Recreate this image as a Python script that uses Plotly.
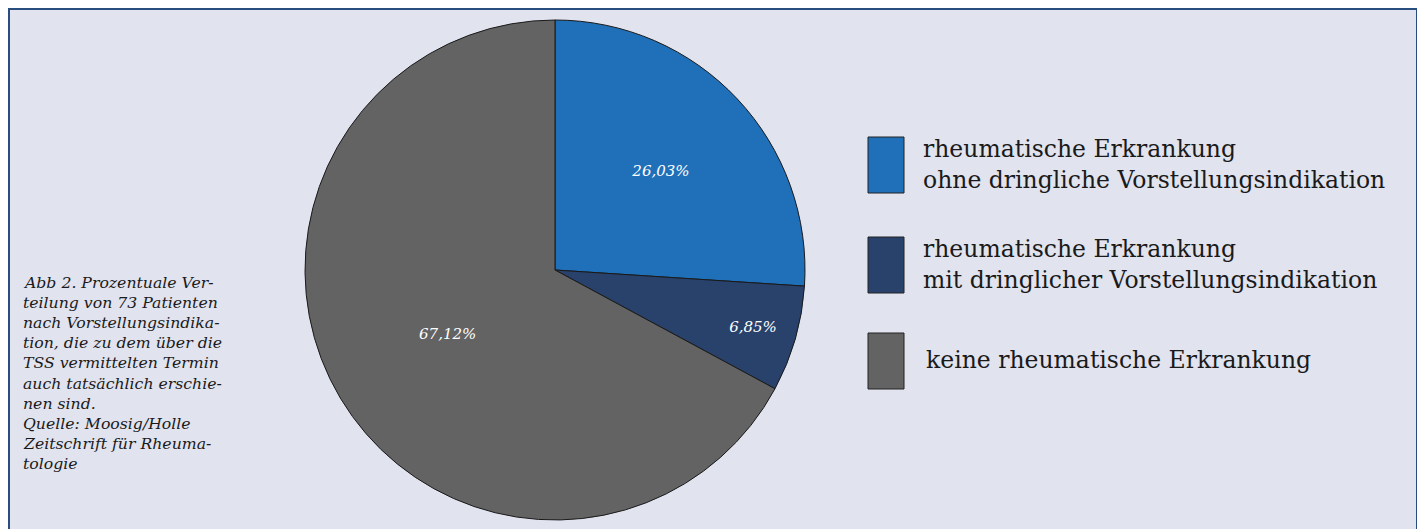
import plotly.graph_objects as go

W, H = 1410, 521

categories = [
    "rheumatische Erkrankung<br>ohne dringliche Vorstellungsindikation",
    "rheumatische Erkrankung<br>mit dringlicher Vorstellungsindikation",
    "keine rheumatische Erkrankung",
]
patients = [19, 5, 49]
colors = ["#1f70b8", "#28426c", "#636363"]

caption_lines = [
    "Abb 2. Prozentuale Ver-",
    "teilung von 73 Patienten",
    "nach Vorstellungsindika-",
    "tion, die zu dem über die",
    "TSS vermittelten Termin",
    "auch tatsächlich erschie-",
    "nen sind.",
    "Quelle: Moosig/Holle",
    "Zeitschrift für Rheuma-",
    "tologie",
]

bg = "#e1e3ef"
serif = "DejaVu Serif"


def px(x, y):
    # pixel position in the figure -> paper coords
    return x / W, 1 - y / H


fig = go.Figure(go.Pie(
    labels=categories,
    values=patients,
    sort=False,
    direction="clockwise",
    rotation=0,
    marker=dict(colors=colors, line=dict(color="#1a1a1a", width=1)),
    texttemplate="%{percent:.2%}",
    textposition="inside",
    insidetextorientation="horizontal",
    textfont=dict(family=serif, size=15, color="white", style="italic"),
    domain=dict(x=[297 / W, 797 / W], y=[1 - 512 / H, 1 - 12 / H]),
    showlegend=False,
    hoverinfo="label+percent",
))

# blue frame round the whole thing
shapes = [dict(type="rect", xref="paper", yref="paper", layer="below",
               x0=1 / W, x1=1 - 1 / W, y0=-0.05, y1=1 - 1 / H,
               fillcolor=bg, line=dict(color="#2a4d80", width=2))]

# hand-made legend (big boxes like the original)
box_tops = [129, 229, 325]
text_x = [913, 913, 916]
annotations = []
for i, (lab, col) in enumerate(zip(categories, colors)):
    top = box_tops[i]
    x0, y1 = px(860, top)
    x1, y0 = px(896, top + 56)
    shapes.append(dict(type="rect", xref="paper", yref="paper",
                       x0=x0, x1=x1, y0=y0, y1=y1,
                       fillcolor=col, line=dict(color="#222222", width=1)))
    tx, ty = px(text_x[i], top + 27)
    annotations.append(dict(xref="paper", yref="paper", x=tx, y=ty,
                            xanchor="left", yanchor="middle", align="left", showarrow=False,
                            text=lab, font=dict(family=serif, size=23.5, color="#1a1a1a")))

# caption, one line at a time to keep the tight leading
for i, line in enumerate(caption_lines):
    cx, cy = px(13, 274 + 20.2 * i)
    annotations.append(dict(xref="paper", yref="paper", x=cx, y=cy,
                            xanchor="left", yanchor="middle", showarrow=False,
                            text=line,
                            font=dict(family=serif, size=15.7, color="#1a1a1a", style="italic")))

fig.update_layout(
    width=W, height=H,
    margin=dict(l=0, r=0, t=0, b=0),
    paper_bgcolor=bg,
    separators=",.",
    shapes=shapes,
    annotations=annotations,
)

fig.write_html("out.html")
